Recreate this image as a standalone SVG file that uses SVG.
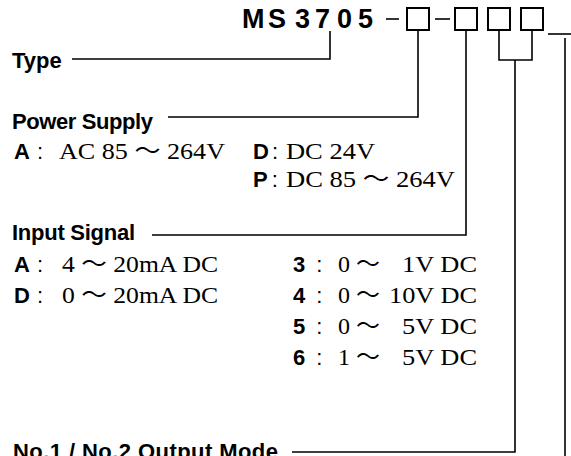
<svg xmlns="http://www.w3.org/2000/svg" width="571" height="456" viewBox="0 0 571 456">
<style>
.lbl{font-family:"Liberation Sans","Noto Sans CJK JP",sans-serif;font-weight:bold;font-size:22px;fill:#000}
.code{font-family:"Liberation Sans",sans-serif;font-weight:bold;font-size:27px;fill:#000}
.key{font-family:"Liberation Sans",sans-serif;font-weight:bold;font-size:22px;fill:#000}
.col{font-weight:normal}
.val{font-family:"Liberation Serif","Noto Sans CJK JP",serif;font-size:24px;fill:#000}
.ln{fill:none;stroke:#000;stroke-width:1.6}
.box{fill:#fff;stroke:#000;stroke-width:2}
</style>
<rect width="571" height="456" fill="#fff"/>
<g id="model-code">
<text class="code" y="28"><tspan x="242">M</tspan><tspan x="268">S</tspan><tspan x="295">3</tspan><tspan x="315">7</tspan><tspan x="337">0</tspan><tspan x="358">5</tspan></text>
<line class="ln" x1="386" y1="19" x2="399" y2="19" stroke-width="2.5"/>
<rect class="box" x="407" y="8" width="22" height="22"/>
<line class="ln" x1="435" y1="19" x2="450" y2="19" stroke-width="2.5"/>
<rect class="box" x="455" y="8" width="22" height="22"/>
<rect class="box" x="488" y="8" width="22" height="22"/>
<rect class="box" x="521" y="8" width="22" height="22"/>
<line class="ln" x1="548" y1="34" x2="571" y2="34" stroke-width="2"/>
</g>
<g id="type">
<text class="lbl" x="12" y="68">Type</text>
</g>
<g id="power-supply">
<text class="lbl" x="12" y="129" textLength="141">Power Supply</text>
<text class="key" x="14" y="159">A<tspan class="col" dx="7">:</tspan></text>
<text class="val" x="59" y="159" textLength="166" lengthAdjust="spacingAndGlyphs">AC 85 ～ 264V</text>
<text class="key" x="253" y="159">D<tspan class="col" dx="3">:</tspan></text>
<text class="val" x="286" y="159" textLength="89" lengthAdjust="spacingAndGlyphs">DC 24V</text>
<text class="key" x="253" y="187">P<tspan class="col" dx="4">:</tspan></text>
<text class="val" x="286" y="187" textLength="169" lengthAdjust="spacingAndGlyphs">DC 85 ～ 264V</text>
</g>
<g id="input-signal">
<text class="lbl" x="12" y="240" textLength="123">Input Signal</text>
<text class="key" x="14" y="272">A<tspan class="col" dx="7">:</tspan></text>
<text class="val" x="62" y="272" textLength="156" lengthAdjust="spacingAndGlyphs">4 ～ 20mA DC</text>
<text class="key" x="14" y="303">D<tspan class="col" dx="7">:</tspan></text>
<text class="val" x="62" y="303" textLength="156" lengthAdjust="spacingAndGlyphs">0 ～ 20mA DC</text>
<text class="key" x="293" y="272">3<tspan class="col" dx="11">:</tspan></text>
<text class="val" x="338" y="272">0 ～</text>
<text class="val" x="402" y="272" textLength="75" lengthAdjust="spacingAndGlyphs">1V DC</text>
<text class="key" x="293" y="303">4<tspan class="col" dx="11">:</tspan></text>
<text class="val" x="338" y="303">0 ～</text>
<text class="val" x="389" y="303" textLength="88" lengthAdjust="spacingAndGlyphs">10V DC</text>
<text class="key" x="293" y="334">5<tspan class="col" dx="11">:</tspan></text>
<text class="val" x="338" y="334">0 ～</text>
<text class="val" x="402" y="334" textLength="75" lengthAdjust="spacingAndGlyphs">5V DC</text>
<text class="key" x="293" y="365">6<tspan class="col" dx="11">:</tspan></text>
<text class="val" x="338" y="365">1 ～</text>
<text class="val" x="402" y="365" textLength="75" lengthAdjust="spacingAndGlyphs">5V DC</text>
</g>
<g id="output-mode">
<text class="lbl" x="13" y="459" textLength="265">No.1 / No.2 Output Mode</text>
</g>
<g id="connectors">
<path class="ln" d="M72,59 H330 V31"/>
<path class="ln" d="M168,117 H418 V31"/>
<path class="ln" d="M152,235 H466 V31"/>
<path class="ln" d="M499,31 V60 H532 V31"/>
<path class="ln" d="M515,60 V452 H292"/>
<path class="ln" d="M565,38 V456"/>
</g>
</svg>
